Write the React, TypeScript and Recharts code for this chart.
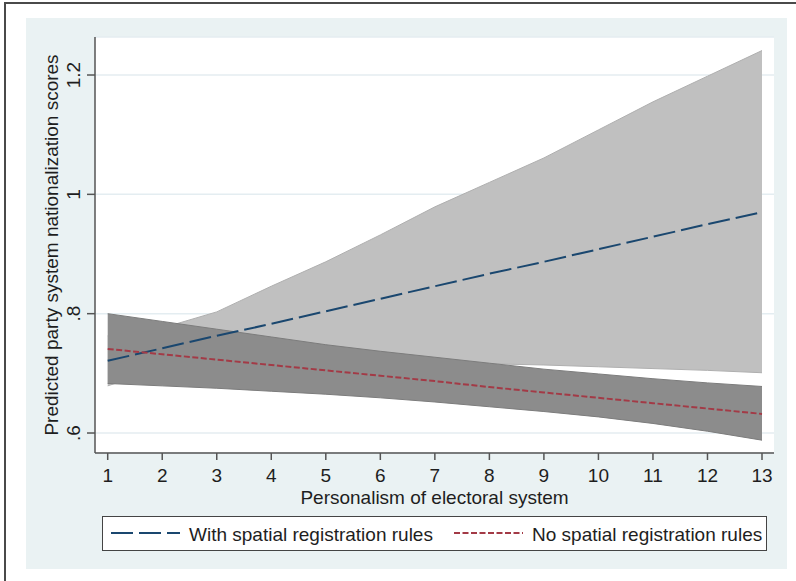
import React from "react";
import { ComposedChart, Area, Line, XAxis, YAxis, CartesianGrid } from "recharts";

// personalism scores on the x axis
const personalism = [1, 2, 3, 4, 5, 6, 7, 8, 9, 10, 11, 12, 13];

// with spatial registration rules: fit + 95% CI
const withFit = [0.721, 0.742, 0.763, 0.783, 0.804, 0.825, 0.846, 0.867, 0.887, 0.908, 0.929, 0.95, 0.97];
const withHigh = [0.763, 0.776, 0.803, 0.846, 0.887, 0.932, 0.979, 1.02, 1.061, 1.108, 1.155, 1.198, 1.241];
const withLow = [0.679, 0.709, 0.722, 0.723, 0.722, 0.72, 0.718, 0.716, 0.714, 0.711, 0.708, 0.705, 0.701];

// no spatial registration rules: fit + 95% CI
const noFit = [0.741, 0.732, 0.723, 0.714, 0.705, 0.696, 0.687, 0.677, 0.668, 0.659, 0.65, 0.641, 0.632];
const noHigh = [0.8, 0.787, 0.774, 0.761, 0.748, 0.737, 0.727, 0.717, 0.707, 0.699, 0.691, 0.684, 0.678];
const noLow = [0.683, 0.679, 0.675, 0.67, 0.665, 0.659, 0.652, 0.644, 0.636, 0.627, 0.616, 0.603, 0.588];

const yTicks = [0.6, 0.8, 1, 1.2];
const yTickLabels = [".6", ".8", "1", "1.2"];

const legendItems = [
  { name: "With spatial registration rules", color: "#1a476f", dash: "22 6" },
  { name: "No spatial registration rules", color: "#a33a46", dash: "6 2.5" },
];

const data = personalism.map((x, i) => ({
  x,
  withBand: [withLow[i], withHigh[i]],
  noBand: [noLow[i], noHigh[i]],
  withFit: withFit[i],
  noFit: noFit[i],
}));

const FONT = "'Liberation Sans', Arial, sans-serif";
const TEXT = "#1e1e1e";
const AXIS = "#555555";

const XTick = ({ x, y, payload }: any) => (
  <text x={x} y={y + 22} textAnchor="middle" fontSize={19} fontFamily={FONT} fill={TEXT}>
    {payload.value}
  </text>
);

const YTick = ({ x, y, payload }: any) => {
  const idx = yTicks.indexOf(payload.value);
  const bx = x - 7;
  return (
    <text x={bx} y={y} transform={`rotate(-90 ${bx} ${y})`} textAnchor="middle" fontSize={19} fontFamily={FONT} fill={TEXT}>
      {idx >= 0 ? yTickLabels[idx] : payload.value}
    </text>
  );
};

export default function App() {
  return (
    <div style={{ position: "absolute", left: 0, top: 0, width: 796, height: 581, background: "#fff", overflow: "hidden" }}>
      {/* outer frame */}
      <div style={{ position: "absolute", left: 4, top: 2, width: 800, height: 590, borderLeft: "2px solid #4a4a4a", borderTop: "2px solid #4a4a4a" }} />
      {/* graph region */}
      <div style={{ position: "absolute", left: 26, top: 18, width: 761, height: 551, background: "#eaf2f3" }}>
        <ComposedChart width={761} height={551} data={data} margin={{ top: 19, right: 13, left: 0, bottom: 86 }}>
          <CartesianGrid vertical={false} fill="#ffffff" stroke="#e4edf1" strokeWidth={1.5} />
          <XAxis
            dataKey="x"
            type="number"
            domain={[0.767, 13.22]}
            ticks={personalism}
            allowDataOverflow
            height={30}
            tickSize={7}
            tickMargin={0}
            stroke={AXIS}
            strokeWidth={1.5}
            tick={<XTick />}
            label={{
              content: ({ viewBox }: any) => (
                <text x={viewBox.x + viewBox.width / 2} y={viewBox.y + 51} textAnchor="middle" fontSize={19} fontFamily={FONT} fill={TEXT}>
                  Personalism of electoral system
                </text>
              ),
            }}
          />
          <YAxis
            type="number"
            domain={[0.5665, 1.2637]}
            ticks={yTicks}
            allowDataOverflow
            width={69}
            tickSize={8}
            tickMargin={0}
            stroke={AXIS}
            strokeWidth={1.5}
            tick={<YTick />}
            label={{
              content: ({ viewBox }: any) => {
                const bx = 32;
                const cy = viewBox.y + viewBox.height / 2;
                return (
                  <text x={bx} y={cy} transform={`rotate(-90 ${bx} ${cy})`} textAnchor="middle" fontSize={19} fontFamily={FONT} fill={TEXT}>
                    Predicted party system nationalization scores
                  </text>
                );
              },
            }}
          />
          <Area type="linear" dataKey="withBand" fill="#c0c0c0" fillOpacity={1} stroke="#afafaf" strokeWidth={1} isAnimationActive={false} />
          <Area type="linear" dataKey="noBand" fill="#8c8c8c" fillOpacity={1} stroke="#7c7c7c" strokeWidth={1} isAnimationActive={false} />
          <Line type="linear" dataKey="withFit" stroke="#1a476f" strokeWidth={2} strokeDasharray="22 6" dot={false} isAnimationActive={false} />
          <Line type="linear" dataKey="noFit" stroke="#a33a46" strokeWidth={2} strokeDasharray="6 2.5" dot={false} isAnimationActive={false} />
        </ComposedChart>
      </div>
      {/* legend */}
      <div style={{ position: "absolute", left: 102, top: 516, width: 663, height: 33, border: "1.5px solid #444", background: "#fff" }}>
        <svg width={663} height={33} style={{ display: "block" }}>
          {legendItems.map((it, i) => {
            const x0 = i === 0 ? 8 : 351;
            return (
              <g key={it.name}>
                <line x1={x0} x2={x0 + 69} y1={16} y2={16} stroke={it.color} strokeWidth={2} strokeDasharray={it.dash} />
                <text x={x0 + 78} y={24} fontSize={19} fontFamily={FONT} fill={TEXT}>
                  {it.name}
                </text>
              </g>
            );
          })}
        </svg>
      </div>
    </div>
  );
}
